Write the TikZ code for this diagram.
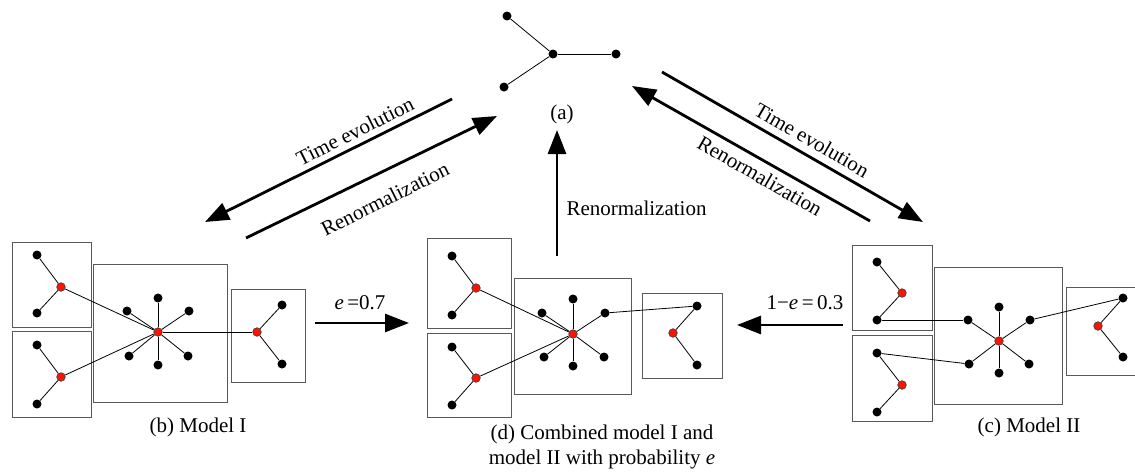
\documentclass[tikz,border=0pt]{standalone}
\usepackage{fontspec}
\setmainfont{Liberation Serif}
\usetikzlibrary{arrows.meta}
\usetikzlibrary{calc}
\tikzset{>={Triangle[length=24pt,width=18pt]}}
\tikzstyle{dnode}=[circle,fill=black,inner sep=0pt,minimum size=9pt]
\tikzstyle{rnode}=[circle,fill=red!85!orange,draw=black!75,line width=0.7pt,inner sep=0pt,minimum size=8.5pt]
\tikzstyle{cell}=[draw=black!65,line width=1pt]
\tikzstyle{link}=[line width=0.8pt,color=black]
\tikzstyle{taro}=[->,line width=2.8pt,color=black]

\begin{document}
\begin{tikzpicture}[x=1pt,y=-1pt,font=\fontsize{21}{25}\selectfont]
	\useasboundingbox (0,0) rectangle (1135,472);

	% (a) small tree
	\node[dnode] (ac) at (553,54) {};
	\node[dnode] (a1) at (507,16) {};
	\node[dnode] (a2) at (504,87) {};
	\node[dnode] (a3) at (616,54) {};
	\draw[link] (ac) -- (a1);
	\draw[link] (ac) -- (a2);
	\draw[link] (ac) -- (a3);
	\node (alabel) at (562,114) {(a)};

	% arrows to and from (a)
	\coordinate (lt0) at (452,99);
	\coordinate (lt1) at (205,222);
	\coordinate (lr0) at (246,238);
	\coordinate (lr1) at (497,116);
	\coordinate (rt0) at (662,72);
	\coordinate (rt1) at (923,222);
	\coordinate (rr0) at (870,221);
	\coordinate (rr1) at (632,86);
	\coordinate (vr0) at (557,256);
	\coordinate (vr1) at (557,130);
	\draw[taro] (lt0) -- (lt1);
	\draw[taro] (lr0) -- (lr1);
	\draw[taro] (rt0) -- (rt1);
	\draw[taro] (rr0) -- (rr1);
	\draw[taro] (vr0) -- (vr1);
	\node[rotate=26.5] (ltlabel) at (355,131) {Time evolution};
	\node[rotate=26.5] (lrlabel) at (385,199) {Renormalization};
	\node[rotate=-30] (rtlabel) at (812,140) {Time evolution};
	\node[rotate=-30] (rrlabel) at (760,176) {Renormalization};
	\node[anchor=west] (vrlabel) at (563,208) {Renormalization};

	% (b) Model I
	\draw[cell] (12,242) rectangle (91,327);
	\draw[cell] (12,331) rectangle (91,417);
	\draw[cell] (93,264) rectangle (227,402);
	\draw[cell] (231,289) rectangle (305,382);
	\node[rnode] (b1c) at (61,287) {};
	\node[dnode] (b1u) at (37,255) {};
	\node[dnode] (b1d) at (37,313) {};
	\node[rnode] (b2c) at (61,377) {};
	\node[dnode] (b2u) at (37,345) {};
	\node[dnode] (b2d) at (37,404) {};
	\node[rnode] (b3c) at (257,332) {};
	\node[dnode] (b3u) at (282,305) {};
	\node[dnode] (b3d) at (282,364) {};
	\node[rnode] (bc) at (158,332) {};
	\node[dnode] (bn) at (158,298) {};
	\node[dnode] (bs) at (158,365) {};
	\node[dnode] (bnw) at (127,311) {};
	\node[dnode] (bne) at (189,311) {};
	\node[dnode] (bsw) at (129,356) {};
	\node[dnode] (bse) at (188,356) {};
	\foreach \n in {b1u,b1d} \draw[link] (b1c) -- (\n);
	\foreach \n in {b2u,b2d} \draw[link] (b2c) -- (\n);
	\foreach \n in {b3u,b3d} \draw[link] (b3c) -- (\n);
	\foreach \n in {bn,bs,bnw,bne,bsw,bse} \draw[link] (bc) -- (\n);
	\draw[link] (b1c) -- (bc);
	\draw[link] (b2c) -- (bc);
	\draw[link] (bc) -- (b3c);
	\node (blabel) at (198,427) {(b) Model I};

	% e = 0.7
	\coordinate (ea0) at (315,323);
	\coordinate (ea1) at (409,323);
	\draw[taro] (ea0) -- (ea1);
	\node (ealabel) at (360,303) {\textit{e}\,=0.7};

	% (d) combined
	\draw[cell] (427,238) rectangle (511,328);
	\draw[cell] (427,333) rectangle (511,417);
	\draw[cell] (514,278) rectangle (631,394);
	\draw[cell] (642,293) rectangle (722,378);
	\node[rnode] (d1c) at (476,288) {};
	\node[dnode] (d1u) at (452,256) {};
	\node[dnode] (d1d) at (452,315) {};
	\node[rnode] (d2c) at (476,378) {};
	\node[dnode] (d2u) at (452,347) {};
	\node[dnode] (d2d) at (452,405) {};
	\node[rnode] (d3c) at (673,333) {};
	\node[dnode] (d3u) at (697,306) {};
	\node[dnode] (d3d) at (697,365) {};
	\node[rnode] (dc) at (573,334) {};
	\node[dnode] (dn) at (573,299) {};
	\node[dnode] (ds) at (573,366) {};
	\node[dnode] (dnw) at (542,313) {};
	\node[dnode] (dne) at (605,313) {};
	\node[dnode] (dsw) at (544,357) {};
	\node[dnode] (dse) at (604,357) {};
	\foreach \n in {d1u,d1d} \draw[link] (d1c) -- (\n);
	\foreach \n in {d2u,d2d} \draw[link] (d2c) -- (\n);
	\foreach \n in {d3u,d3d} \draw[link] (d3c) -- (\n);
	\foreach \n in {dn,ds,dnw,dne,dsw,dse} \draw[link] (dc) -- (\n);
	\draw[link] (d1c) -- (dc);
	\draw[link] (d2c) -- (dc);
	\draw[link] (dne) -- (d3u);
	\node[align=center] (dlabel) at (602,447) {(d) Combined model I and\\model II with probability \textit{e}};

	% 1-e = 0.3
	\coordinate (ca0) at (843,325);
	\coordinate (ca1) at (737,325);
	\draw[taro] (ca0) -- (ca1);
	\node (calabel) at (805,303) {1−\textit{e}\,=\,0.3};

	% (c) Model II
	\draw[cell] (852,245) rectangle (932,330);
	\draw[cell] (852,335) rectangle (932,421);
	\draw[cell] (934,267) rectangle (1062,404);
	\draw[cell] (1140,287) -- (1066,287) -- (1066,375) -- (1140,375);
	\node[rnode] (c1c) at (902,293) {};
	\node[dnode] (c1u) at (877,262) {};
	\node[dnode] (c1d) at (877,320) {};
	\node[rnode] (c2c) at (902,385) {};
	\node[dnode] (c2u) at (877,353) {};
	\node[dnode] (c2d) at (877,412) {};
	\node[rnode] (c3c) at (1098,326) {};
	\node[dnode] (c3u) at (1123,298) {};
	\node[dnode] (c3d) at (1123,357) {};
	\node[rnode] (cc) at (999,341) {};
	\node[dnode] (cn) at (999,307) {};
	\node[dnode] (cs) at (999,373) {};
	\node[dnode] (cnw) at (968,320) {};
	\node[dnode] (cne) at (1030,320) {};
	\node[dnode] (csw) at (969,364) {};
	\node[dnode] (cse) at (1029,364) {};
	\foreach \n in {c1u,c1d} \draw[link] (c1c) -- (\n);
	\foreach \n in {c2u,c2d} \draw[link] (c2c) -- (\n);
	\foreach \n in {c3u,c3d} \draw[link] (c3c) -- (\n);
	\foreach \n in {cn,cs,cnw,cne,csw,cse} \draw[link] (cc) -- (\n);
	\draw[link] (c1d) -- (cnw);
	\draw[link] (c2u) -- (csw);
	\draw[link] (cne) -- (c3u);
	\node (clabel) at (1029,427) {(c) Model II};

\end{tikzpicture}
\end{document}
